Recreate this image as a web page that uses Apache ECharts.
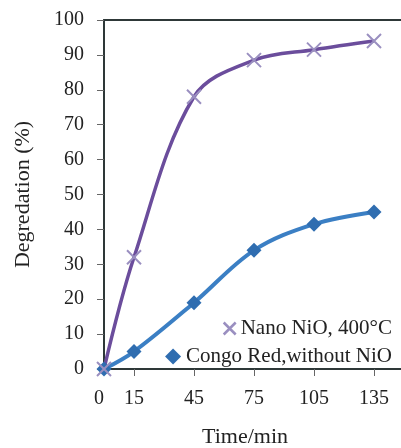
<!DOCTYPE html>
<html>
<head>
<meta charset="utf-8">
<script src="https://cdn.jsdelivr.net/npm/echarts@6/dist/echarts.min.js"></script>
<style>
  html, body { margin: 0; padding: 0; background: #fff; }
  #chart { width: 401px; height: 448px; }
</style>
</head>
<body>
<div id="chart"></div>
<script>
// Degradation of Congo Red over time, with and without nano NiO
const timeTicks = [0, 15, 45, 75, 105, 135];
const nanoTime = [0, 15, 45, 75, 105, 135];
const nanoValues = [0, 32, 78, 88.5, 91.5, 94];
const congoTime = [0, 15, 45, 75, 105, 135];
const congoValues = [0, 5, 19, 34, 41.5, 45];
const nanoName = 'Nano NiO, 400°C';
const congoName = 'Congo Red,without NiO';

const serif = '"Liberation Serif", "DejaVu Serif", serif';
const axisColor = '#2e3838';
const crossPath = 'path://M0,0L10,10M10,0L0,10';

function pairs(xs, ys) { return xs.map((x, i) => [x, ys[i]]); }

const chart = echarts.init(document.getElementById('chart'));
chart.setOption({
  animation: false,
  backgroundColor: '#fff',
  grid: { left: 104, right: -3, top: 20, bottom: 79, containLabel: false, outerBoundsMode: 'none' },
  xAxis: [{
    type: 'value', min: 0, max: 150,
    axisLine: { show: true, lineStyle: { color: axisColor, width: 2 } },
    axisTick: { show: true, customValues: timeTicks.slice(1), length: 7, inside: false,
      lineStyle: { color: '#666', width: 1 } },
    axisLabel: {
      customValues: timeTicks, color: '#222', fontFamily: serif, fontSize: 20, margin: 20,
      // the origin label sits just left of the vertical axis
      formatter: v => (v === 0 ? '{o|0}' : String(v)),
      rich: { o: { fontFamily: serif, fontSize: 20, color: '#222', padding: [0, 10, 0, 0] } }
    },
    splitLine: { show: false },
    name: 'Time/min', nameLocation: 'middle', nameGap: 57,
    nameTextStyle: { color: '#222', fontFamily: serif, fontSize: 22, padding: [0, 18, 0, 0] }
  }, {
    type: 'value', min: 0, max: 150, position: 'top',
    axisLine: { show: true, lineStyle: { color: axisColor, width: 2 } },
    axisTick: { show: false }, axisLabel: { show: false }, splitLine: { show: false }
  }],
  yAxis: {
    type: 'value', min: 0, max: 100, interval: 10,
    axisLine: { show: true, lineStyle: { color: axisColor, width: 2 } },
    axisTick: { show: true, length: 7, lineStyle: { color: '#666', width: 1 } },
    axisLabel: { color: '#222', fontFamily: serif, fontSize: 20, margin: 20 },
    splitLine: { show: false },
    name: 'Degredation (%)', nameLocation: 'middle', nameGap: 70,
    nameTextStyle: { color: '#222', fontFamily: serif, fontSize: 22 }
  },
  legend: [{
    orient: 'vertical', right: 4, top: 313, itemGap: 6, itemWidth: 12, itemHeight: 12,
    textStyle: { color: '#222', fontFamily: serif, fontSize: 21 },
    data: [{ name: nanoName, icon: crossPath,
      itemStyle: { color: '#9a8fc0', borderColor: '#9a8fc0', borderWidth: 2.5 } }]
  }, {
    orient: 'vertical', right: 4, top: 341, itemGap: 6, itemWidth: 16, itemHeight: 16,
    textStyle: { color: '#222', fontFamily: serif, fontSize: 21 },
    data: [{ name: congoName, icon: 'diamond', itemStyle: { color: '#2f6db0' } }]
  }],
  series: [{
    name: congoName, type: 'line', smooth: 0.35,
    data: pairs(congoTime, congoValues),
    symbol: 'diamond', symbolSize: 15,
    lineStyle: { color: '#3b7fc4', width: 4 },
    itemStyle: { color: '#2f6db0' }
  }, {
    name: nanoName, type: 'line', smooth: 0.35,
    data: pairs(nanoTime, nanoValues),
    symbol: crossPath, symbolSize: 14,
    lineStyle: { color: '#6b4d9c', width: 3.5 },
    itemStyle: { color: '#9a8fc0', borderColor: '#9a8fc0', borderWidth: 2 }
  }]
});
</script>
</body>
</html>
